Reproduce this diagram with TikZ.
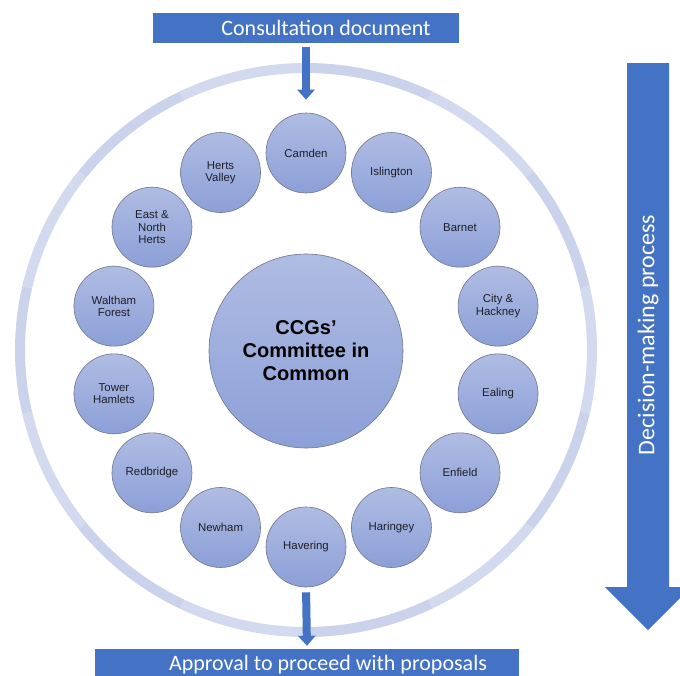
\documentclass[tikz,border=0pt]{standalone}
\usepackage{fontspec}
\setmainfont{Liberation Sans}
\newfontfamily\calibri{Carlito}
\usetikzlibrary{arrows.meta,calc}
\definecolor{blueA}{HTML}{4472C4}
\definecolor{ringA}{HTML}{CBD2EC}
\definecolor{ringB}{HTML}{D3D9EE}
\definecolor{circTop}{HTML}{AFBCE3}
\definecolor{circBot}{HTML}{8C9FD7}
\definecolor{circLine}{HTML}{70768A}
\definecolor{circText}{HTML}{1E1E28}
\tikzset{
  ccg/.style={circle, minimum size=80pt, inner sep=0pt, draw=circLine, line width=0.6pt,
    top color=circTop, bottom color=circBot, text=circText, align=center,
    font=\fontsize{11.4}{12.3}\selectfont},
  hub/.style={circle, minimum size=194pt, inner sep=0pt, draw=circLine, line width=0.6pt,
    top color=circTop, bottom color=circBot, text=black, align=center,
    font=\bfseries\fontsize{20}{23}\selectfont},
  bluebox/.style={rectangle, fill=blueA, text=white, inner sep=0pt,
    font=\calibri\fontsize{22}{24}\selectfont},
  flow/.style={draw=blueA, line width=8pt, -{Triangle[width=17pt,length=10pt]}},
  ringseg/.style={line width=10pt}
}
\begin{document}
\begin{tikzpicture}[x=1pt,y=-1pt]
\useasboundingbox (0,0) rectangle (680,675);
\clip (0,0) rectangle (680,675);
\fill[white] (0,0) rectangle (680,675);
\coordinate (ctr) at (306,350);
% outer ring
\foreach \k in {0,...,13}{
  \pgfmathsetmacro\a{-90+\k*360/14}
  \pgfmathsetmacro\b{-90+(\k+1)*360/14}
  \pgfmathtruncatemacro\odd{mod(\k,2)}
  \ifnum\odd=0 \def\rc{ringA}\else\def\rc{ringB}\fi
  \draw[ringseg, draw=\rc] ($(ctr)+(\a:286 and 282)$) arc[start angle=\a, end angle=\b, x radius=286, y radius=282];
}
% hub
\node[hub] (hub) at (306,351) {CCGs’\\Committee in\\Common};
% member circles
\foreach \nm/\txt [count=\i from 0] in {camden/Camden, islington/Islington, barnet/Barnet,
   cityhackney/{City \&\\Hackney}, ealing/Ealing, enfield/Enfield, haringey/Haringey,
   havering/Havering, newham/Newham, redbridge/Redbridge, towerhamlets/{Tower\\Hamlets},
   walthamforest/{Waltham\\Forest}, eastnorthherts/{East \&\\North\\Herts}, hertsvalley/{Herts\\Valley}}{
  \node[ccg] (\nm) at ($(ctr)+(-90+\i*360/14:197)$) {\txt};
}
% boxes
\node[bluebox, minimum width=306pt, minimum height=30pt] (consult) at (306,28) {\hspace*{40pt}Consultation document};
\node[bluebox, minimum width=424pt, minimum height=32pt] (approval) at (307,665) {\hspace*{42pt}Approval to proceed with proposals};
% flow arrows
\draw[flow, shorten <=4pt, shorten >=13pt] (consult.south) -- (camden.north);
\draw[flow, shorten <=5pt, shorten >=3pt] (havering.south) -- (approval.north);
% decision-making arrow
\fill[blueA] (627,63) -- (669,63) -- (669,587) -- (691,587) -- (648,630) -- (605,587) -- (627,587) -- cycle;
\node[text=white, rotate=90, font=\calibri\fontsize{24}{26}\selectfont] (decision) at (648,335) {Decision-making process};
\end{tikzpicture}
\end{document}
